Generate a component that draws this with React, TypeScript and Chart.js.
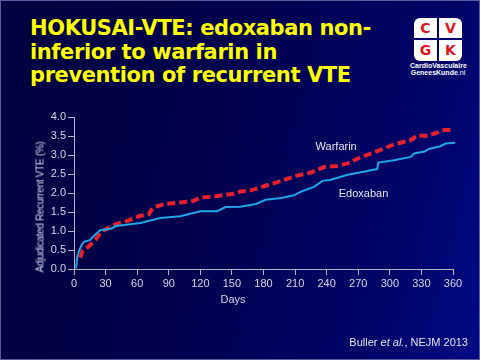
import React, { useEffect, useRef } from "react";
import { Chart, registerables } from "chart.js";

Chart.register(...registerables);

const xTickStep = 30;
const xMax = 360;
const yMax = 4;
const yTickStep = 0.5;

const edoxabanDays = [2, 3, 5, 8, 10, 15, 20, 25, 35, 40, 63, 82, 101, 120, 136, 144, 158, 173, 182, 197, 209, 216, 228, 236, 244, 260, 275, 288, 289, 304, 320, 323, 333, 337, 348, 353, 362];
const edoxabanPct = [0.02, 0.3, 0.5, 0.67, 0.72, 0.76, 0.9, 1.02, 1.06, 1.13, 1.21, 1.34, 1.39, 1.52, 1.52, 1.63, 1.64, 1.71, 1.82, 1.87, 1.94, 2.04, 2.16, 2.32, 2.35, 2.48, 2.56, 2.63, 2.8, 2.86, 2.95, 3.04, 3.09, 3.16, 3.23, 3.3, 3.32];

const warfarinDays = [6, 8, 13, 21, 25, 35, 40, 51, 63, 71, 75, 86, 101, 113, 120, 136, 152, 158, 168, 182, 197, 211, 225, 238, 250, 263, 268, 275, 288, 304, 320, 326, 336, 345, 352, 360];
const warfarinPct = [0.3, 0.48, 0.57, 0.79, 0.96, 1.12, 1.18, 1.27, 1.4, 1.44, 1.62, 1.71, 1.75, 1.79, 1.88, 1.92, 1.98, 2.04, 2.07, 2.19, 2.32, 2.45, 2.54, 2.69, 2.71, 2.8, 2.89, 2.97, 3.1, 3.28, 3.39, 3.52, 3.5, 3.59, 3.66, 3.66];

const seriesNames = ["Edoxaban", "Warfarin"];
// label anchor in data units: [day, percent]
const seriesLabelAt = [
  [275, 1.97],
  [249, 3.22],
];

const toPoints = (xs: number[], ys: number[]) => xs.map((x, i) => ({ x, y: ys[i] }));

const labelPlugin = {
  id: "seriesLabels",
  afterDatasetsDraw(chart: any) {
    const { ctx, scales } = chart;
    ctx.save();
    ctx.fillStyle = "#e6e6f2";
    ctx.font = "11px 'Liberation Sans', Arial, sans-serif";
    ctx.textAlign = "center";
    ctx.textBaseline = "middle";
    seriesNames.forEach((name, i) => {
      const [d, v] = seriesLabelAt[i];
      ctx.fillText(name, scales.x.getPixelForValue(d), scales.y.getPixelForValue(v));
    });
    ctx.restore();
  },
};

function ChartCanvas() {
  const ref = useRef<HTMLCanvasElement | null>(null);
  useEffect(() => {
    if (!ref.current) return;
    const axisColor = "#b4b4c8";
    const tickColor = "#d6d6e4";
    const tickFont = { family: "'Liberation Sans', Arial, sans-serif", size: 11 };
    const chart = new Chart(ref.current, {
      type: "line",
      data: {
        datasets: [
          {
            label: "Edoxaban",
            data: toPoints(edoxabanDays, edoxabanPct),
            borderColor: "#1ea6e6",
            borderWidth: 2,
            pointRadius: 0,
            tension: 0,
            fill: false,
            clip: false as any,
          },
          {
            label: "Warfarin",
            data: toPoints(warfarinDays, warfarinPct),
            borderColor: "#e8202c",
            borderWidth: 4,
            borderDash: [8, 4],
            pointRadius: 0,
            tension: 0,
            fill: false,
            clip: false as any,
          },
        ],
      },
      options: {
        animation: false,
        responsive: false,
        maintainAspectRatio: false,
        layout: { padding: { left: 0, top: 116, right: 28, bottom: 72 } },
        plugins: { legend: { display: false }, tooltip: { enabled: false } },
        scales: {
          x: {
            type: "linear",
            min: 0,
            max: xMax,
            afterFit: (s: any) => {
              s.height = 20;
            },
            ticks: { stepSize: xTickStep, color: tickColor, font: tickFont, padding: 2, maxRotation: 0 },
            grid: { drawOnChartArea: false, drawTicks: true, tickLength: 6, color: axisColor },
            border: { display: true, color: axisColor, width: 1 },
          },
          y: {
            type: "linear",
            min: 0,
            max: yMax,
            afterFit: (s: any) => {
              s.width = 73;
            },
            ticks: {
              stepSize: yTickStep,
              color: tickColor,
              font: tickFont,
              padding: 2,
              callback: (v: any) => Number(v).toFixed(1),
            },
            grid: { drawOnChartArea: false, drawTicks: true, tickLength: 6, color: axisColor },
            border: { display: true, color: axisColor, width: 1 },
          },
        },
      },
      plugins: [labelPlugin],
    });
    return () => chart.destroy();
  }, []);
  return <canvas ref={ref} width={480} height={360} style={{ position: "absolute", left: 0, top: 0, width: 480, height: 360 }} />;
}

export default function App() {
  return (
    <div
      style={{
        position: "fixed",
        left: 0,
        top: 0,
        width: 480,
        height: 360,
        overflow: "hidden",
        boxSizing: "border-box",
        border: "1px solid #5c5c9c",
        background: "linear-gradient(105deg, #00003e 0%, #00004e 45%, #000468 80%, #000a84 100%)",
        fontFamily: "'Liberation Sans', Arial, sans-serif",
      }}
    >
      <div
        style={{
          position: "absolute",
          left: 29,
          top: 16,
          color: "#ffff00",
          fontFamily: "'DejaVu Sans', Verdana, sans-serif",
          fontWeight: "bold",
          fontSize: 21,
          lineHeight: "23.5px",
          letterSpacing: -0.4,
          whiteSpace: "nowrap",
        }}
      >
        HOKUSAI-VTE: edoxaban non-
        <br />
        inferior to warfarin in
        <br />
        prevention of recurrent VTE
      </div>
      <div style={{ position: "absolute", left: 413, top: 17, width: 48, height: 43, background: "#ffffff", borderRadius: 6 }}>
        <div style={{ position: "absolute", left: 23, top: 0, width: 2, height: 43, background: "#000070" }} />
        <div style={{ position: "absolute", left: 0, top: 20, width: 48, height: 2, background: "#000070" }} />
        {["C", "V", "G", "K"].map((ch, i) => (
          <div
            key={ch}
            style={{
              position: "absolute",
              left: (i % 2) * 25,
              top: Math.floor(i / 2) * 22,
              width: 23,
              height: 21,
              lineHeight: "21px",
              textAlign: "center",
              color: "#e0141e",
              fontWeight: "bold",
              fontSize: 14,
              fontFamily: "'DejaVu Sans', sans-serif",
            }}
          >
            {ch}
          </div>
        ))}
      </div>
      <div
        style={{
          position: "absolute",
          left: 409,
          top: 61,
          width: 56,
          textAlign: "center",
          color: "#ffffff",
          fontSize: 7,
          lineHeight: "7px",
          fontWeight: "bold",
          fontFamily: "'Liberation Sans Narrow', 'Liberation Sans', Arial, sans-serif",
          whiteSpace: "nowrap",
        }}
      >
        CardioVasculaire
        <br />
        GeneesKunde<span style={{ fontWeight: "normal" }}>.nl</span>
      </div>
      <ChartCanvas />
      <div
        style={{
          position: "absolute",
          left: 39,
          top: 206,
          transform: "translate(-50%, -50%) rotate(-90deg)",
          color: "#dcdcea",
          fontSize: 10,
          letterSpacing: -0.3,
          whiteSpace: "nowrap",
        }}
      >
        Adjudicated Recurrent VTE (%)
      </div>
      <div
        style={{
          position: "absolute",
          left: 232,
          top: 298,
          transform: "translate(-50%, -50%)",
          color: "#d6d6e4",
          fontSize: 11,
          whiteSpace: "nowrap",
        }}
      >
        Days
      </div>
      <div
        style={{
          position: "absolute",
          right: 11,
          top: 341,
          transform: "translateY(-50%)",
          color: "#e4e4f0",
          fontSize: 11,
          whiteSpace: "nowrap",
        }}
      >
        Buller <i>et al.</i>, NEJM 2013
      </div>
    </div>
  );
}
